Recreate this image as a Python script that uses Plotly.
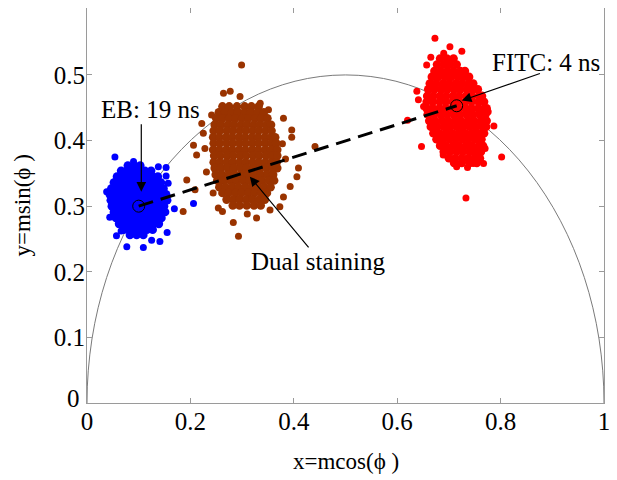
import plotly.graph_objects as go

# ---------------- data ----------------
# EB cluster (blue): dense core given row by row, plus scattered points
blue_row_y = [0.362, 0.354, 0.345, 0.336, 0.327, 0.318, 0.309, 0.300, 0.291, 0.282, 0.273, 0.264, 0.256]
blue_row_x = [
    [0.079, 0.091, 0.103],
    [0.066, 0.077, 0.088, 0.100, 0.112, 0.124],
    [0.058, 0.069, 0.081, 0.092, 0.104, 0.115, 0.127, 0.137],
    [0.052, 0.063, 0.074, 0.086, 0.097, 0.109, 0.120, 0.132, 0.143],
    [0.047, 0.058, 0.069, 0.081, 0.092, 0.103, 0.114, 0.126, 0.137, 0.148],
    [0.044, 0.055, 0.066, 0.077, 0.088, 0.100, 0.111, 0.122, 0.133, 0.144, 0.153],
    [0.046, 0.057, 0.068, 0.079, 0.091, 0.102, 0.113, 0.124, 0.135, 0.146, 0.155],
    [0.048, 0.059, 0.070, 0.082, 0.093, 0.104, 0.116, 0.127, 0.138, 0.149],
    [0.052, 0.063, 0.074, 0.086, 0.097, 0.108, 0.119, 0.130, 0.141, 0.151],
    [0.056, 0.067, 0.078, 0.090, 0.101, 0.112, 0.123, 0.134, 0.144],
    [0.062, 0.073, 0.085, 0.096, 0.107, 0.118, 0.129, 0.139],
    [0.071, 0.082, 0.094, 0.105, 0.116, 0.127],
    [0.083, 0.096, 0.109],
]
blue_out_x = [0.206, 0.077, 0.109, 0.141, 0.155, 0.057, 0.054, 0.090, 0.138, 0.153,
              0.169, 0.044, 0.038, 0.153, 0.157, 0.125, 0.066]
blue_out_y = [0.304, 0.238, 0.237, 0.246, 0.260, 0.255, 0.375, 0.368, 0.360, 0.359,
              0.296, 0.283, 0.322, 0.346, 0.335, 0.248, 0.262]

# Dual staining cluster (brown)
brown_row_y = [0.452, 0.443, 0.434, 0.424, 0.415, 0.405, 0.396, 0.386, 0.377,
               0.367, 0.358, 0.348, 0.339, 0.329, 0.320, 0.310, 0.301]
brown_row_x = [
    [0.262, 0.275, 0.290, 0.305, 0.318, 0.332],
    [0.255, 0.267, 0.280, 0.292, 0.305, 0.317, 0.330, 0.342],
    [0.250, 0.262, 0.275, 0.287, 0.300, 0.312, 0.325, 0.337, 0.349],
    [0.247, 0.259, 0.272, 0.284, 0.297, 0.309, 0.322, 0.334, 0.347, 0.356],
    [0.245, 0.257, 0.270, 0.282, 0.295, 0.307, 0.320, 0.332, 0.345, 0.357],
    [0.244, 0.256, 0.269, 0.281, 0.294, 0.306, 0.319, 0.331, 0.344, 0.356, 0.364],
    [0.245, 0.257, 0.270, 0.282, 0.295, 0.307, 0.320, 0.332, 0.345, 0.357, 0.366],
    [0.244, 0.256, 0.269, 0.281, 0.294, 0.306, 0.319, 0.331, 0.344, 0.356, 0.368],
    [0.246, 0.258, 0.271, 0.283, 0.296, 0.308, 0.321, 0.333, 0.346, 0.358, 0.368],
    [0.245, 0.257, 0.270, 0.282, 0.295, 0.307, 0.320, 0.332, 0.345, 0.357, 0.367],
    [0.247, 0.259, 0.272, 0.284, 0.297, 0.309, 0.322, 0.334, 0.347, 0.359, 0.368],
    [0.249, 0.261, 0.274, 0.286, 0.299, 0.311, 0.324, 0.336, 0.349, 0.360],
    [0.252, 0.264, 0.277, 0.289, 0.302, 0.314, 0.327, 0.339, 0.352, 0.362],
    [0.256, 0.268, 0.281, 0.293, 0.306, 0.318, 0.331, 0.343, 0.355],
    [0.262, 0.274, 0.287, 0.299, 0.312, 0.324, 0.337, 0.348],
    [0.270, 0.283, 0.295, 0.308, 0.320, 0.333, 0.344],
    [0.282, 0.295, 0.309, 0.323, 0.336],
]
brown_out_x = [0.409, 0.406, 0.393, 0.380, 0.373, 0.354, 0.328, 0.283, 0.293, 0.254,
               0.209, 0.193, 0.212, 0.206, 0.228, 0.225, 0.222, 0.241, 0.264, 0.277,
               0.296, 0.335, 0.351, 0.380, 0.396, 0.396, 0.441, 0.299, 0.186, 0.244,
               0.231, 0.384, 0.378, 0.310, 0.262]
brown_out_y = [0.358, 0.345, 0.330, 0.314, 0.299, 0.294, 0.282, 0.275, 0.254, 0.297,
               0.325, 0.340, 0.378, 0.393, 0.388, 0.411, 0.426, 0.439, 0.472, 0.475,
               0.467, 0.457, 0.447, 0.434, 0.416, 0.405, 0.391, 0.515, 0.292, 0.320,
               0.352, 0.372, 0.395, 0.288, 0.292]

# FITC cluster (red)
red_row_y = [0.525, 0.516, 0.506, 0.497, 0.487, 0.478, 0.468, 0.459, 0.449,
             0.440, 0.430, 0.421, 0.411, 0.402, 0.392, 0.383, 0.373, 0.366]
red_row_x = [
    [0.683, 0.696, 0.709],
    [0.677, 0.690, 0.702, 0.715],
    [0.672, 0.684, 0.697, 0.709, 0.722, 0.731],
    [0.667, 0.679, 0.692, 0.704, 0.717, 0.729, 0.739],
    [0.663, 0.675, 0.688, 0.700, 0.713, 0.725, 0.738, 0.747],
    [0.660, 0.672, 0.685, 0.697, 0.710, 0.722, 0.735, 0.747, 0.756],
    [0.658, 0.670, 0.683, 0.695, 0.708, 0.720, 0.733, 0.745, 0.758, 0.764],
    [0.657, 0.669, 0.682, 0.694, 0.707, 0.719, 0.732, 0.744, 0.757, 0.768],
    [0.657, 0.669, 0.682, 0.694, 0.707, 0.719, 0.732, 0.744, 0.757, 0.769, 0.773],
    [0.659, 0.671, 0.684, 0.696, 0.709, 0.721, 0.734, 0.746, 0.759, 0.771],
    [0.662, 0.674, 0.687, 0.699, 0.712, 0.724, 0.737, 0.749, 0.762, 0.773],
    [0.665, 0.677, 0.690, 0.702, 0.715, 0.727, 0.740, 0.752, 0.765, 0.772],
    [0.670, 0.682, 0.695, 0.707, 0.720, 0.732, 0.745, 0.757, 0.768],
    [0.676, 0.688, 0.701, 0.713, 0.726, 0.738, 0.751, 0.763],
    [0.683, 0.695, 0.708, 0.720, 0.733, 0.745, 0.758, 0.766],
    [0.690, 0.702, 0.715, 0.727, 0.740, 0.752, 0.762],
    [0.700, 0.712, 0.725, 0.737, 0.750, 0.760],
    [0.710, 0.725, 0.740, 0.754],
]
red_out_x = [0.638, 0.641, 0.651, 0.620, 0.647, 0.657, 0.673, 0.702, 0.725, 0.776,
             0.787, 0.770, 0.750, 0.802, 0.767, 0.747, 0.736, 0.715, 0.689, 0.683,
             0.733, 0.690, 0.665]
red_out_y = [0.475, 0.462, 0.452, 0.431, 0.391, 0.515, 0.556, 0.543, 0.536, 0.444,
             0.422, 0.388, 0.378, 0.375, 0.365, 0.365, 0.359, 0.360, 0.378, 0.396,
             0.3125, 0.533, 0.527]

# pure-species phasors (EB: 19 ns, FITC: 4 ns)
pure_x = [0.100, 0.715]
pure_y = [0.300, 0.453]

x_ticks = [0, 0.2, 0.4, 0.6, 0.8, 1]
x_tick_text = ["0", "0.2", "0.4", "0.6", "0.8", "1"]
y_ticks = [0, 0.1, 0.2, 0.3, 0.4, 0.5]
y_tick_text = ["0", "0.1", "0.2", "0.3", "0.4", "0.5"]


def expand(row_y, row_x):
    xs, ys = [], []
    for yv, xl in zip(row_y, row_x):
        for xv in xl:
            xs.append(xv)
            ys.append(yv)
    return xs, ys


FONT = "Liberation Serif"

fig = go.Figure()

# universal semicircle
fig.add_shape(type="circle", xref="x", yref="y", x0=0, x1=1, y0=-0.5, y1=0.5,
              line=dict(color="#7a7a7a", width=1), layer="below")

for rows_y, rows_x, ox, oy, col in [
    (blue_row_y, blue_row_x, blue_out_x, blue_out_y, "#0000ff"),
    (brown_row_y, brown_row_x, brown_out_x, brown_out_y, "#993300"),
    (red_row_y, red_row_x, red_out_x, red_out_y, "#ff0000"),
]:
    cx, cy = expand(rows_y, rows_x)
    fig.add_trace(go.Scatter(x=ox, y=oy, mode="markers",
                             marker=dict(color=col, size=7, line=dict(width=0)),
                             showlegend=False, hoverinfo="skip"))
    fig.add_trace(go.Scatter(x=cx, y=cy, mode="markers",
                             marker=dict(color=col, size=8.6, line=dict(width=0)),
                             showlegend=False, hoverinfo="skip"))

# dashed line between the pure species
fig.add_trace(go.Scatter(x=pure_x, y=pure_y, mode="lines",
                         line=dict(color="black", width=3, dash="15px,8px"),
                         showlegend=False, hoverinfo="skip"))
fig.add_trace(go.Scatter(x=pure_x, y=pure_y, mode="markers",
                         marker=dict(symbol="circle-open", size=12, color="black",
                                     line=dict(width=1, color="black")),
                         showlegend=False, hoverinfo="skip"))

# labels with arrows
labels = [
    dict(text="EB: 19 ns", tx=0.123, ty=0.447, tip=(0.105, 0.322), tail=(0.105, 0.427)),
    dict(text="FITC: 4 ns", tx=0.887, ty=0.519, tip=(0.725, 0.461), tail=(0.879, 0.503)),
    dict(text="Dual staining", tx=0.447, ty=0.215, tip=(0.315, 0.345), tail=(0.431, 0.235)),
]
for lb in labels:
    fig.add_annotation(x=lb["tx"], y=lb["ty"], xref="x", yref="y", text=lb["text"],
                       showarrow=False, font=dict(family=FONT, size=25, color="black"))
    fig.add_annotation(x=lb["tip"][0], y=lb["tip"][1], ax=lb["tail"][0], ay=lb["tail"][1],
                       xref="x", yref="y", axref="x", ayref="y", text="",
                       showarrow=True, arrowhead=2, arrowsize=1.6, arrowwidth=1.2,
                       arrowcolor="black", standoff=0, startstandoff=0)

# axis titles (placed as annotations relative to the plot area)
fig.add_annotation(x=0.5, y=0, xref="paper", yref="paper", text="x=mcos(ϕ )",
                   showarrow=False, yanchor="middle", xanchor="center", yshift=-58,
                   font=dict(family=FONT, size=23, color="black"))
fig.add_annotation(x=0, y=0.5, xref="paper", yref="paper", text="y=msin(ϕ )",
                   showarrow=False, yanchor="middle", xanchor="center", xshift=-65,
                   textangle=-90, font=dict(family=FONT, size=23, color="black"))
# the y-axis "0" label sits slightly above the x-axis "0" label, as in the original
fig.add_annotation(x=0, y=0, xref="paper", yref="paper", text=y_tick_text[0],
                   showarrow=False, yanchor="middle", xanchor="right", xshift=-5, yshift=5,
                   font=dict(family=FONT, size=25, color="black"))

axis_common = dict(showline=True, linecolor="#9a9a9a", linewidth=1, mirror="ticks",
                   ticks="inside", ticklen=5, tickcolor="#9a9a9a", tickwidth=1,
                   showgrid=False, zeroline=False, ticklabelstandoff=-4,
                   tickfont=dict(family=FONT, size=25, color="black"))

fig.update_xaxes(range=[0, 1], tickvals=x_ticks, ticktext=x_tick_text, **axis_common)
fig.update_yaxes(range=[0, 0.602], tickvals=y_ticks[1:], ticktext=y_tick_text[1:], **axis_common)

# page body has an 8px margin: size/margins compensate so the plot area lands where intended
fig.update_layout(width=609, height=472, margin=dict(l=79, r=13, t=0, b=77),
                  plot_bgcolor="white", paper_bgcolor="white", showlegend=False)

fig.write_html("out.html")
